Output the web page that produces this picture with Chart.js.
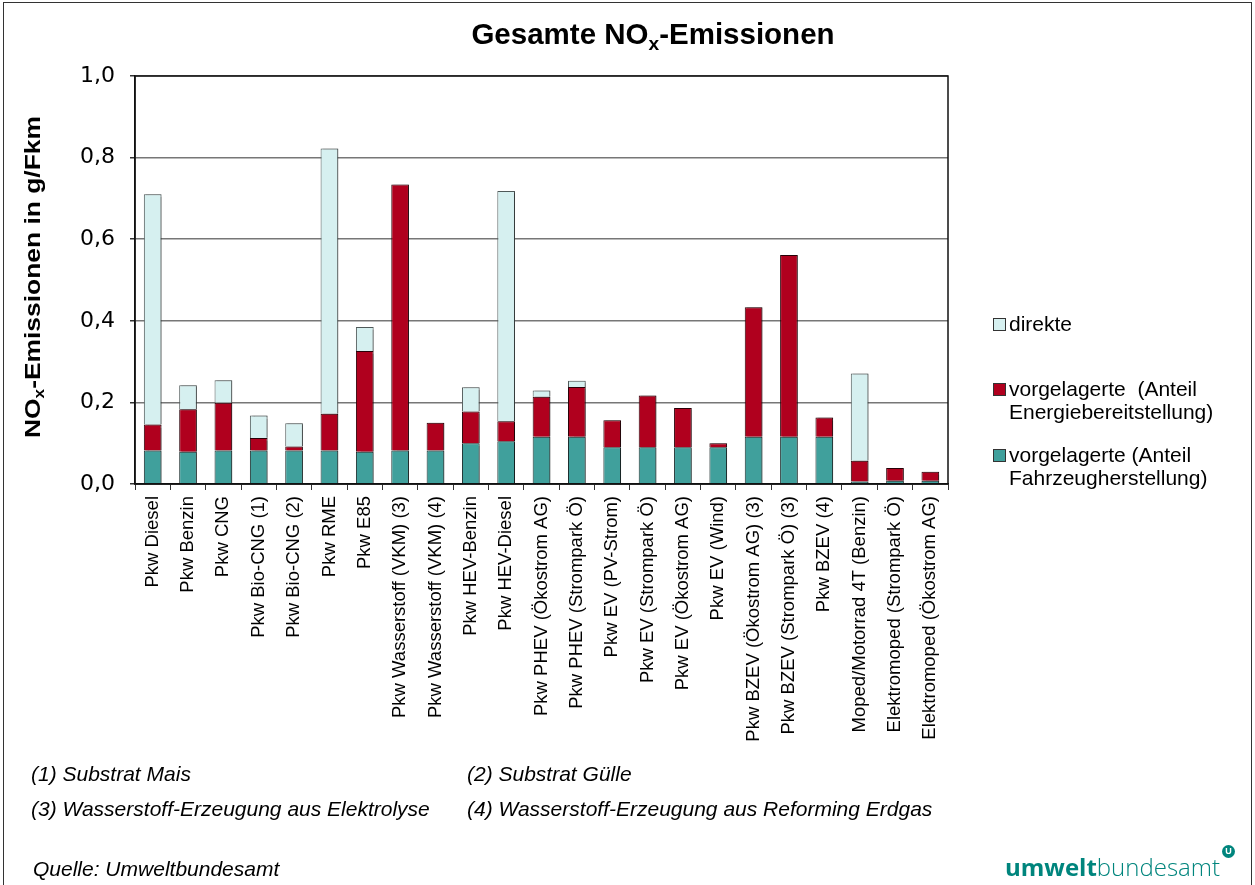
<!DOCTYPE html>
<html>
<head>
<meta charset="utf-8">
<script src="https://cdn.jsdelivr.net/npm/chart.js@4/dist/chart.umd.min.js"></script>
<style>
  body { margin: 0; background: #fff; font-family: "Liberation Sans", Arial, sans-serif; }
  #wrap { position: relative; width: 1255px; height: 885px; overflow: hidden; }
  #frame { position: absolute; left: 3px; top: 2px; width: 1247px; height: 900px; border: 1px solid #333; }
  canvas { position: absolute; left: 0; top: 0; }
  .t { position: absolute; white-space: nowrap; color: #000; }
  #titel { left: 0; width: 1306px; top: 17px; text-align: center; font-weight: bold; font-size: 29.5px; }
  #ytitel { left: -167px; top: 262px; width: 400px; height: 30px; line-height: 30px; text-align: center;
            font-weight: bold; font-size: 22px; transform: rotate(-90deg) scaleX(1.2); }
  sub { font-size: 65%; vertical-align: -0.3em; line-height: 0; }
  .leg { position: absolute; left: 993px; font-size: 21px; line-height: 23px; }
  .leg i { position: absolute; left: 0; width: 11px; height: 11px; border: 1px solid #333; }
  .leg span { position: absolute; left: 16px; top: 0; white-space: nowrap; }
  .fn { font-style: italic; font-size: 21px; }
  #logo { left: 1005px; top: 850px; font-family: "Open Sans", sans-serif; font-size: 24px; color: #00857d; }
  #logo b { font-weight: bold; }
  #logo span { font-weight: 300; }
  #ico { position: absolute; left: 1222px; top: 845px; width: 13px; height: 13px; border-radius: 50%; background: #00857d;
         color: #fff; font: bold 9px "Liberation Sans", Arial, sans-serif; text-align: center; line-height: 13px; }
</style>
</head>
<body>
<div id="wrap">
  <div id="frame"></div>
  <canvas id="grafico" width="1255" height="885"></canvas>
  <div class="t" id="titel">Gesamte NO<sub>x</sub>-Emissionen</div>
  <div class="t" id="ytitel">NO<sub>x</sub>-Emissionen in g/Fkm</div>

  <div class="leg" style="top:312px"><i style="top:6px;background:#d6f0f0"></i><span>direkte</span></div>
  <div class="leg" style="top:377px"><i style="top:6px;background:#b0001e"></i><span>vorgelagerte&nbsp; (Anteil<br>Energiebereitstellung)</span></div>
  <div class="leg" style="top:443px"><i style="top:6px;background:#40a09c"></i><span>vorgelagerte (Anteil<br>Fahrzeugherstellung)</span></div>

  <div class="t fn" style="left:31px;top:762px">(1) Substrat Mais</div>
  <div class="t fn" style="left:467px;top:762px">(2) Substrat Gülle</div>
  <div class="t fn" style="left:31px;top:797px">(3) Wasserstoff-Erzeugung aus Elektrolyse</div>
  <div class="t fn" style="left:467px;top:797px">(4) Wasserstoff-Erzeugung aus Reforming Erdgas</div>
  <div class="t fn" style="left:33px;top:857px">Quelle: Umweltbundesamt</div>

  <div class="t" id="logo"><b>umwelt</b><span>bundesamt</span></div>
  <div id="ico">U</div>
</div>
<script>
const kategorien = [
  "Pkw Diesel", "Pkw Benzin", "Pkw CNG", "Pkw Bio-CNG (1)", "Pkw Bio-CNG (2)", "Pkw RME", "Pkw E85",
  "Pkw Wasserstoff (VKM) (3)", "Pkw Wasserstoff (VKM) (4)", "Pkw HEV-Benzin", "Pkw HEV-Diesel",
  "Pkw PHEV (Ökostrom AG)", "Pkw PHEV (Strompark Ö)", "Pkw EV (PV-Strom)", "Pkw EV (Strompark Ö)",
  "Pkw EV (Ökostrom AG)", "Pkw EV (Wind)", "Pkw BZEV (Ökostrom AG) (3)", "Pkw BZEV (Strompark Ö) (3)",
  "Pkw BZEV (4)", "Moped/Motorrad 4T (Benzin)", "Elektromoped (Strompark Ö)", "Elektromoped (Ökostrom AG)"
];

// g/Fkm
const fahrzeug = [0.082, 0.079, 0.082, 0.082, 0.082, 0.082, 0.079, 0.082, 0.082, 0.100, 0.105,
  0.116, 0.116, 0.090, 0.090, 0.090, 0.090, 0.116, 0.116, 0.116, 0.006, 0.008, 0.008];
const energie = [0.064, 0.104, 0.117, 0.031, 0.010, 0.090, 0.247, 0.652, 0.068, 0.078, 0.049,
  0.098, 0.122, 0.066, 0.127, 0.096, 0.010, 0.317, 0.445, 0.047, 0.051, 0.031, 0.022];
const direkt = [0.564, 0.059, 0.055, 0.055, 0.057, 0.650, 0.059, null, null, 0.059, 0.564,
  0.015, 0.015, null, null, null, null, null, null, null, 0.214, null, null];

const yTicks = [0, 0.2, 0.4, 0.6, 0.8, 1.0];

const rahmen = {
  id: "rahmen",
  beforeDatasetsDraw(chart) {
    const ctx = chart.ctx;
    ctx.save();
    ctx.shadowColor = "rgba(0,0,0,0.35)";
    ctx.shadowOffsetX = 2;
    ctx.shadowOffsetY = 0;
    ctx.shadowBlur = 1;
  },
  afterDatasetsDraw(chart) {
    chart.ctx.restore();
    const a = chart.chartArea;
    const ctx = chart.ctx;
    ctx.save();
    ctx.strokeStyle = "#111";
    ctx.lineWidth = 1.5;
    ctx.strokeRect(a.left, a.top, a.right - a.left, a.bottom - a.top);
    ctx.restore();
  },
};

new Chart(document.getElementById("grafico"), {
  type: "bar",
  data: {
    labels: kategorien,
    datasets: [
      { label: "vorgelagerte (Anteil Fahrzeugherstellung)", data: fahrzeug, backgroundColor: "#40a09c", borderColor: "#1c2e2e" },
      { label: "vorgelagerte  (Anteil Energiebereitstellung)", data: energie, backgroundColor: "#b0001e", borderColor: "#2a0008" },
      { label: "direkte", data: direkt, backgroundColor: "#d6f0f0", borderColor: "#505a5a" },
    ],
  },
  options: {
    responsive: false,
    animation: false,
    layout: { padding: { left: 0, top: 76, right: 307, bottom: 0 } },
    datasets: {
      bar: { barPercentage: 1, categoryPercentage: 0.5, borderWidth: 1 },
    },
    plugins: {
      legend: { display: false },
      tooltip: { enabled: false },
    },
    scales: {
      x: {
        stacked: true,
        afterFit(scale) { scale.height = 401; },
        grid: { display: true, drawOnChartArea: false, offset: true, tickLength: 6, tickColor: "#333" },
        border: { color: "#111", width: 1.5 },
        ticks: {
          autoSkip: false, minRotation: 90, maxRotation: 90, padding: 6,
          color: "#000", font: { family: "Liberation Sans", size: 18.5 },
        },
      },
      y: {
        stacked: true,
        min: 0, max: 1,
        afterFit(scale) { scale.width = 135; },
        afterBuildTicks(scale) { scale.ticks = yTicks.map((v) => ({ value: v })); },
        grid: { color: "#777", lineWidth: 1.5, tickLength: 5, tickColor: "#333" },
        border: { color: "#111", width: 1.5 },
        ticks: {
          padding: 15, color: "#000", font: { family: "DejaVu Sans", size: 22 },
          callback: (v) => v.toFixed(1).replace(".", ","),
        },
      },
    },
  },
  plugins: [rahmen],
});
</script>
</body>
</html>
